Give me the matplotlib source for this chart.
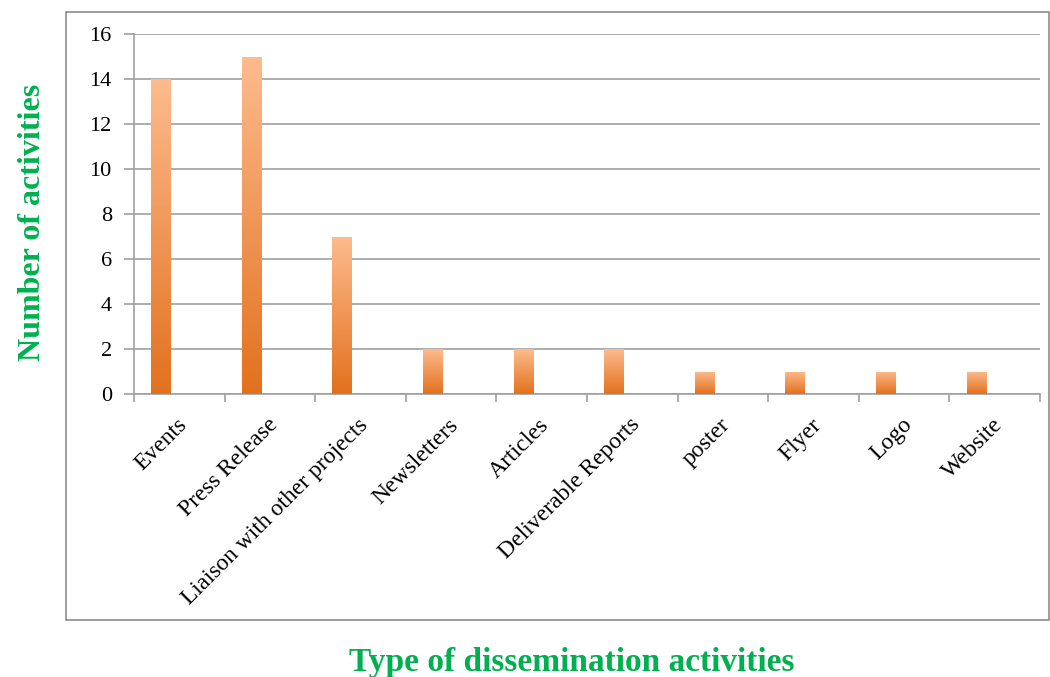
import numpy as np
import matplotlib.pyplot as plt
from matplotlib.colors import LinearSegmentedColormap
from matplotlib.patches import Rectangle

categories = ["Events", "Press Release", "Liaison with other projects", "Newsletters",
              "Articles", "Deliverable Reports", "poster", "Flyer", "Logo", "Website"]
counts = [14, 15, 7, 2, 2, 2, 1, 1, 1, 1]

green = "#00B050"
grid_color = "#A0A0A0"
cmap = LinearSegmentedColormap.from_list("orange", ["#E2711D", "#FDBB8E"])


def main():
    plt.rcParams["font.family"] = ["Liberation Serif", "DejaVu Serif"]
    fig = plt.figure(figsize=(10.5, 6.77), dpi=100)
    fig.patches.append(Rectangle((66 / 1050, 1 - 620 / 677), 983 / 1050, 608 / 677,
                                 transform=fig.transFigure, fill=False,
                                 edgecolor="#8C8C8C", linewidth=1.2))
    ax = fig.add_axes([134 / 1050, 1 - 394 / 677, 906 / 1050, 360 / 677])

    x = np.arange(len(categories))
    # bars sit left of the category centre (clustered layout with one series)
    bars = ax.bar(x - 0.2, counts, width=0.22, color="none", zorder=3)
    grad = np.linspace(0, 1, 256).reshape(-1, 1)
    for b in bars:
        x0, w, h = b.get_x(), b.get_width(), b.get_height()
        im = ax.imshow(grad, cmap=cmap, origin="lower", aspect="auto",
                       extent=[x0, x0 + w, 0, h], zorder=3)
        im.set_clip_path(b)

    ax.set_xlim(-0.5, len(categories) - 0.5)
    ax.set_ylim(0, 16)
    ax.set_yticks(range(0, 17, 2))
    ax.yaxis.grid(True, color=grid_color, linewidth=1.2, zorder=0)
    ax.set_axisbelow(True)

    ax.set_xticks(x + 0.05)
    ax.set_xticklabels(categories, rotation=45, ha="right", va="center",
                       rotation_mode="anchor", fontsize=17)
    ax.set_xticks(np.arange(-0.5, len(categories), 1), minor=True)
    ax.tick_params(axis="x", which="major", length=0, pad=20)
    ax.tick_params(axis="x", which="minor", length=6, color=grid_color, width=1.2)
    ax.tick_params(axis="y", length=7, color=grid_color, width=1.2, labelsize=16, pad=9)

    for s in ["top", "right"]:
        ax.spines[s].set_visible(False)
    for s in ["left", "bottom"]:
        ax.spines[s].set_color(grid_color)
        ax.spines[s].set_linewidth(1.2)

    fig.text(33 / 1050, 1 - 222 / 677, "Number of activities", rotation=90,
             ha="center", va="center", color=green, fontsize=23, fontweight="bold")
    fig.text(572 / 1050, 1 - 662 / 677, "Type of dissemination activities",
             ha="center", va="center", color=green, fontsize=24, fontweight="bold")

    fig.savefig("out.png", dpi=100)


if __name__ == "__main__":
    main()
